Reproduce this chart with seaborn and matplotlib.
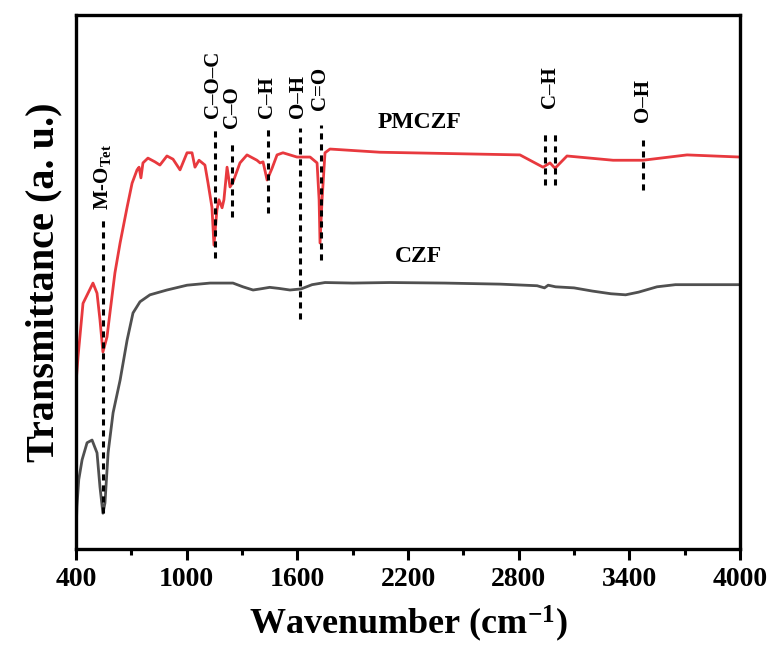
import numpy as np
import pandas as pd
import matplotlib
matplotlib.use("Agg")
import matplotlib.pyplot as plt
import seaborn as sns

# FTIR spectra (wavenumber in cm^-1, transmittance in arbitrary units)
czf_wn = [400, 405, 415, 433, 460, 487, 514, 530, 546, 557, 574, 601, 639, 677,
          709, 747, 801, 893, 1002, 1127, 1251, 1305, 1360, 1398, 1450, 1500,
          1560, 1620, 1680, 1750, 1900, 2100, 2400, 2700, 2900, 2940, 2960,
          3000, 3100, 3200, 3300, 3380, 3450, 3550, 3650, 3800, 4000]
czf_t = [2.5, 8.0, 13.0, 16.7, 19.9, 20.4, 18.0, 11.6, 6.7, 8.6, 18.0, 25.5,
         31.6, 39.1, 44.2, 46.3, 47.6, 48.5, 49.4, 49.8, 49.8, 49.1, 48.5,
         48.7, 49.0, 48.8, 48.5, 48.7, 49.5, 49.9, 49.8, 49.9, 49.8, 49.6,
         49.3, 48.9, 49.4, 49.1, 48.9, 48.3, 47.8, 47.6, 48.1, 49.1, 49.5,
         49.5, 49.5]

pmczf_wn = [400, 411, 438, 492, 514, 530, 546, 568, 584, 611, 639, 677, 704,
            731, 742, 752, 763, 790, 828, 855, 893, 926, 964, 1002, 1029,
            1045, 1067, 1099, 1116, 1137, 1148, 1164, 1175, 1192, 1202, 1219,
            1235, 1251, 1289, 1327, 1381, 1398, 1414, 1436, 1463, 1490, 1522,
            1598, 1669, 1707, 1718, 1723, 1734, 1750, 1777, 2048, 2807, 2932,
            2970, 2997, 3062, 3312, 3474, 3713, 4000]
pmczf_t = [31.0, 36.0, 46.0, 49.8, 47.9, 42.9, 36.9, 39.7, 44.2, 51.7, 57.3,
           64.0, 68.5, 71.0, 71.5, 69.5, 72.3, 73.2, 72.5, 71.9, 73.6, 73.0,
           71.0, 74.2, 74.2, 71.5, 72.8, 71.9, 68.5, 64.0, 56.9, 63.5, 65.4,
           63.9, 65.4, 71.5, 67.8, 68.7, 72.3, 73.8, 72.8, 72.3, 72.5, 69.1,
           71.3, 73.8, 74.2, 73.4, 73.4, 72.3, 65.4, 57.3, 65.4, 74.2, 74.9,
           74.3, 73.8, 71.5, 72.3, 71.3, 73.6, 72.8, 72.8, 73.8, 73.4]

# band assignments: label, wavenumber, dashed-line span, label base
band_labels = ["M-O$_{\\mathregular{Tet}}$", "C\u2013O\u2013C", "C\u2013O",
               "C\u2013H", "O\u2013H", "C=O", "C\u2013H", "O\u2013H"]
band_label_wn = [546, 1143, 1246, 1436, 1604, 1723, 2970, 3474]
band_label_t = [63.5, 80.7, 78.8, 80.7, 80.7, 82.2, 82.6, 80.0]
line_wn = [546, 1154, 1246, 1441, 1615, 1728, 2943, 2997, 3474]
line_top = [62.2, 79.0, 76.2, 79.0, 78.8, 79.4, 77.9, 77.9, 76.6]
line_bottom = [6.7, 54.5, 62.2, 62.9, 43.0, 54.1, 68.2, 68.2, 67.2]

major_ticks = [400, 1000, 1600, 2200, 2800, 3400, 4000]
minor_ticks = [700, 1300, 1900, 2500, 3100, 3700]

series_names = ["PMCZF", "CZF"]
series_colors = ["#e8393e", "#505050"]

df = pd.concat([
    pd.DataFrame({"wn": pmczf_wn, "T": pmczf_t, "sample": "PMCZF"}),
    pd.DataFrame({"wn": czf_wn, "T": czf_t, "sample": "CZF"}),
], ignore_index=True)

sns.set_theme(style="ticks")
plt.rcParams["font.family"] = ["Liberation Serif", "DejaVu Serif"]
plt.rcParams["font.weight"] = "bold"
plt.rcParams["text.color"] = "black"
plt.rcParams["axes.labelcolor"] = "black"
plt.rcParams["xtick.color"] = "black"
plt.rcParams["mathtext.fontset"] = "custom"
plt.rcParams["mathtext.rm"] = "Liberation Serif:bold"
plt.rcParams["mathtext.it"] = "Liberation Serif:bold"
plt.rcParams["mathtext.bf"] = "Liberation Serif:bold"

fig = plt.figure(figsize=(7.71, 6.51), dpi=100)
ax = fig.add_axes([76 / 771, 102 / 651, 664 / 771, 534 / 651])

sns.lineplot(data=df, x="wn", y="T", hue="sample", hue_order=series_names,
             palette=dict(zip(series_names, series_colors)), estimator=None,
             sort=False, linewidth=2.0, legend=False, ax=ax)

for x, y0, y1 in zip(line_wn, line_bottom, line_top):
    ax.plot([x, x], [y0, y1], color="black", linestyle=(0, (2.0, 1.6)),
            linewidth=2.2, zorder=3)

for lab, x, y in zip(band_labels, band_label_wn, band_label_t):
    ax.text(x, y, lab, rotation=90, ha="center", va="bottom",
            fontsize=15, fontweight="bold", color="black")

ax.text(2037, 79.8, "PMCZF", ha="left", va="center", fontsize=17,
        fontweight="bold", color="black")
ax.text(2130, 54.7, "CZF", ha="left", va="center", fontsize=17,
        fontweight="bold", color="black")

ax.set_xlim(400, 4000)
ax.set_ylim(0, 100)
ax.set_xticks(major_ticks)
ax.set_xticks(minor_ticks, minor=True)
ax.set_yticks([])
ax.tick_params(axis="x", which="major", direction="out", length=8, width=2.2,
               labelsize=20, pad=5, colors="black")
ax.tick_params(axis="x", which="minor", direction="out", length=4, width=2.2,
               colors="black")
for lbl in ax.get_xticklabels():
    lbl.set_fontweight("bold")
for sp in ax.spines.values():
    sp.set_linewidth(2.4)
    sp.set_visible(True)
    sp.set_color("black")

ax.set_xlabel("Wavenumber (cm$^{\\mathregular{-1}}$)", fontsize=26,
              fontweight="bold", labelpad=8, color="black")
ax.set_ylabel("Transmittance (a. u.)", fontsize=29, fontweight="bold",
              labelpad=10, color="black")

fig.savefig("out.png", dpi=100)
